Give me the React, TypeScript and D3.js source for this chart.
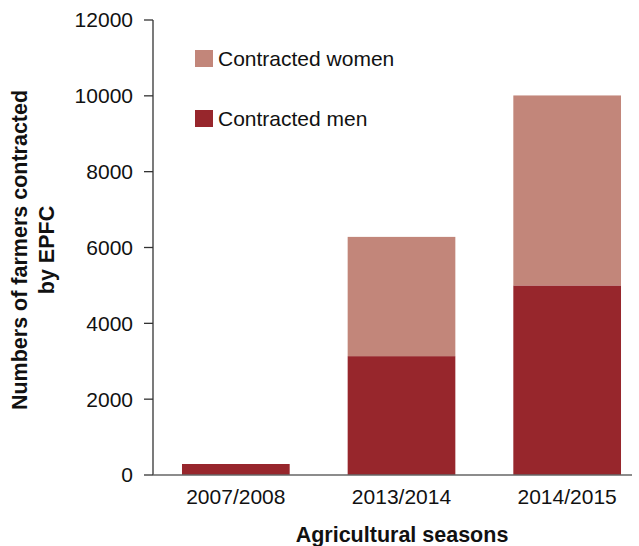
import React from 'react'
import * as d3 from 'd3'

const seasons = ['2007/2008', '2013/2014', '2014/2015']
const men = [290, 3135, 5000]
const women = [0, 3145, 5010]
const yTicks = [0, 2000, 4000, 6000, 8000, 10000, 12000]
const seriesNames = ['Contracted women', 'Contracted men']
const colors = { women: '#c2867a', men: '#97262c' }

const font = '"Liberation Sans", Arial, Helvetica, sans-serif'

const App = () => {
	const width = 639,
		height = 546
	const left = 153,
		bottom = 475,
		top = 20

	const x = d3.scaleBand().domain(seasons).range([left, 650]).paddingInner(0.35).paddingOuter(0.175)
	const y = d3.scaleLinear().domain([0, 12000]).range([bottom, top])

	const stacked = seasons.map((s, i) => ({ season: s, men: men[i], women: women[i] }))
	const series = d3.stack().keys(['men', 'women'])(stacked as any)

	return (
		<svg width={width} height={height} style={{ display: 'block', position: 'absolute', left: 0, top: 0 }} fontFamily={font}>
			{series.map((layer) => (
				<g key={layer.key} fill={colors[layer.key as 'men' | 'women']}>
					{layer.map((d, i) =>
						d[1] - d[0] > 0 ? (
							<rect
								key={i}
								x={x(seasons[i])}
								y={y(d[1])}
								width={x.bandwidth()}
								height={y(d[0]) - y(d[1])}
							/>
						) : null
					)}
				</g>
			))}

			{/* y axis */}
			<line x1={left} x2={left} y1={top} y2={bottom} stroke="#333" strokeWidth={1.3} />
			{yTicks.map((t) => (
				<g key={t}>
					<line x1={left - 9} x2={left} y1={y(t)} y2={y(t)} stroke="#333" strokeWidth={1.3} />
					<text x={left - 20} y={y(t)} dy="0.35em" textAnchor="end" fontSize={21} fill="#111">
						{t}
					</text>
				</g>
			))}

			{/* x axis */}
			<line x1={left} x2={632} y1={bottom} y2={bottom} stroke="#666" strokeWidth={1.5} />
			{seasons.map((s) => (
				<text key={s} x={x(s)! + x.bandwidth() / 2} y={504} textAnchor="middle" fontSize={21} fill="#111">
					{s}
				</text>
			))}

			<text x={402} y={542} textAnchor="middle" fontSize={21.5} fontWeight="bold" fill="#111">
				Agricultural seasons
			</text>
			<g transform="translate(27,250) rotate(-90)" fontSize={21.5} fontWeight="bold" fill="#111">
				<text x={0} y={0} textAnchor="middle">Numbers of farmers contracted</text>
				<text x={0} y={27} textAnchor="middle">by EPFC</text>
			</g>

			{/* legend */}
			{seriesNames.map((name, i) => (
				<g key={name} transform={`translate(195,${50 + i * 60})`}>
					<rect width={18} height={17} fill={i === 0 ? colors.women : colors.men} />
					<text x={23} y={16} fontSize={21} fill="#111">
						{name}
					</text>
				</g>
			))}
		</svg>
	)
}

export default App
